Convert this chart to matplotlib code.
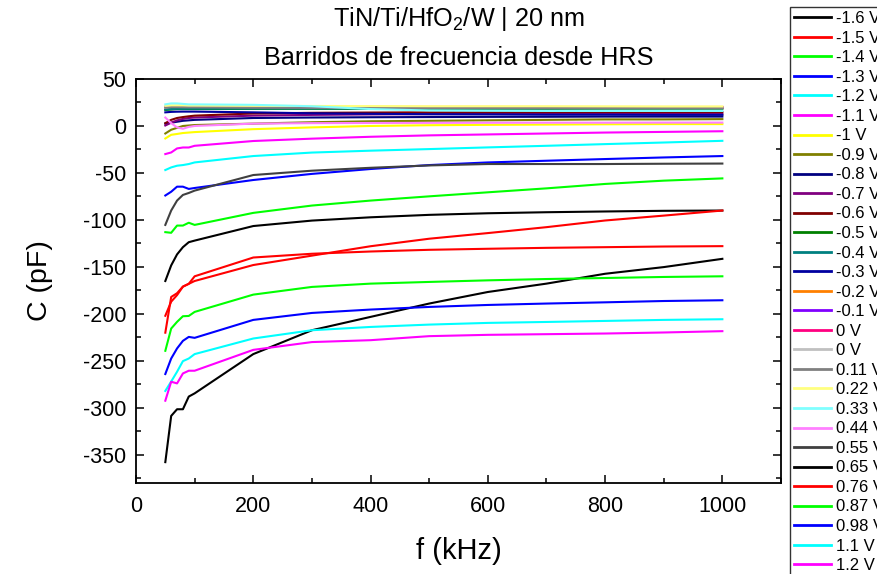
import matplotlib
matplotlib.use("Agg")
import matplotlib.pyplot as plt
from matplotlib.ticker import MultipleLocator

plt.rcParams['font.family'] = ['Liberation Sans', 'DejaVu Sans']
plt.rcParams['mathtext.fontset'] = 'custom'
plt.rcParams['mathtext.rm'] = 'Liberation Sans'
plt.rcParams['mathtext.default'] = 'regular'
plt.rcParams['axes.unicode_minus'] = False

# Frequency sweep points (kHz)
f_khz = [50, 60, 70, 80, 90, 100, 200, 300, 400, 500, 600, 700, 800, 900, 1000]

# Bias voltage labels, in plotting order
labels = ["-1.6 V", "-1.5 V", "-1.4 V", "-1.3 V", "-1.2 V", "-1.1 V", "-1 V",
          "-0.9 V", "-0.8 V", "-0.7 V", "-0.6 V", "-0.5 V", "-0.4 V", "-0.3 V",
          "-0.2 V", "-0.1 V", "0 V", "0 V", "0.11 V", "0.22 V", "0.33 V",
          "0.44 V", "0.55 V", "0.65 V", "0.76 V", "0.87 V", "0.98 V", "1.1 V",
          "1.2 V"]

colors = ["#000000", "#ff0000", "#00ff00", "#0000ff", "#00ffff", "#ff00ff",
          "#ffff00", "#808000", "#000080", "#800080", "#800000", "#008000",
          "#008080", "#0000a0", "#ff8000", "#8000ff", "#ff0080", "#c0c0c0",
          "#808080", "#ffff80", "#80ffff", "#ff80ff", "#404040", "#000000",
          "#ff0000", "#00ff00", "#0000ff", "#00ffff", "#ff00ff"]

# Capacitance (pF) for each bias, one value per frequency
c_m16 = [-165, -148.4, -136.7, -129, -123.7, -122, -106.5, -100.7, -97.2, -94.6, -92.9, -91.8, -91, -90.3, -90]
c_m15 = [-202, -187, -180, -171, -168, -165, -148, -138, -128, -120, -114, -107.7, -100.6, -95.4, -90]
c_m14 = [-113, -113.7, -106, -106, -103, -105.3, -92.5, -84.7, -79.4, -74.9, -70.6, -66.4, -61.7, -58.2, -55.8]
c_m13 = [-74, -70, -64.6, -64.6, -67, -66, -57.5, -51, -45.8, -41.6, -38.8, -37, -35.2, -33.5, -32]
c_m12 = [-46.9, -44.1, -42.3, -41.6, -40.5, -38.8, -32, -28.3, -26.3, -24.6, -22.8, -21.1, -19.3, -17.6, -15.8]
c_m11 = [-29.9, -28.2, -23.9, -22.9, -22.9, -21.1, -16, -13.5, -11.5, -10, -9, -8, -7, -6.3, -5.6]
c_m10 = [-13.3, -9.4, -8.5, -7.5, -7, -6.5, -3.4, -1.5, 0, 0.8, 1.2, 1.5, 1.8, 2, 2]
c_m09 = [-8, -4, -2, 0, 0.5, 1, 2.5, 4, 5, 5.5, 6, 6.5, 7, 7, 7.3]
c_m08 = [2.5, 3.5, 4.5, 5.5, 6, 6.5, 8.5, 9, 9.3, 9.5, 9.7, 9.8, 10, 10, 10]
c_m07 = [0.5, 3.5, 6, 7.5, 8.5, 9, 11, 11.8, 12.3, 12.6, 12.8, 13, 13, 13, 13]
c_m06 = [3, 6.5, 8.5, 9.5, 10.3, 11, 13.3, 14, 14.3, 14.5, 14.6, 14.7, 14.8, 14.8, 14.8]
c_m05 = [17, 17.5, 18, 18, 18, 18, 18.2, 18.3, 18.3, 18.4, 18.4, 18.4, 18.5, 18.5, 18.5]
c_m04 = [17.5, 18, 18.3, 18.3, 18.4, 18.4, 18.5, 18.6, 18.6, 18.7, 18.7, 18.7, 18.8, 18.8, 18.8]
c_m03 = [14.5, 15, 15.2, 15.3, 15.3, 15.3, 14.5, 13.5, 13, 12.5, 12.3, 12, 12, 11.8, 11.8]
c_m02 = [20.5, 21, 21, 21, 20.8, 20.8, 20.6, 20.5, 20.4, 20.3, 20.3, 20.2, 20.2, 20.2, 20.2]
c_m01 = [20.2, 20.6, 20.6, 20.5, 20.4, 20.4, 20.2, 20.1, 20, 20, 20, 19.9, 19.9, 19.9, 19.9]
c_0a = [20, 20.5, 20.5, 20.4, 20.3, 20.3, 20.1, 20, 19.9, 19.8, 19.8, 19.8, 19.7, 19.7, 19.7]
c_0b = [20, 20.5, 20.5, 20.4, 20.3, 20.3, 20.1, 20, 19.9, 19.8, 19.8, 19.8, 19.7, 19.7, 19.7]
c_p011 = [19.5, 20, 20, 19.9, 19.8, 19.8, 19.6, 19.5, 19.4, 19.3, 19.2, 19.1, 19.1, 19, 19]
c_p022 = [21.5, 22, 22, 22, 21.8, 21.8, 21.5, 21.3, 21.2, 21, 21, 21, 20.9, 20.8, 20.8]
c_p033 = [23, 24, 24, 23.5, 23, 23, 22.5, 21, 18, 16.5, 16.2, 16, 16, 16, 16]
c_p044 = [9, 3, -1.5, -3, -1, 0, 2.5, 3, 3.2, 3.3, 3.4, 3.5, 3.5, 3.6, 3.6]
c_p055 = [-105.3, -90, -79.4, -73.4, -71.3, -68.8, -52.2, -47.6, -44.5, -42, -40.5, -40.5, -40.5, -40.2, -40]
c_p065 = [-357.8, -308.6, -301.5, -301.5, -288, -284.6, -242.8, -217.4, -203.2, -189, -176.7, -167.8, -157.3, -150.2, -141.4]
c_p076 = [-220, -182, -178, -171, -168, -160, -140, -136, -133.6, -131.8, -130.7, -129.7, -129, -128.3, -127.9]
c_p087 = [-239.3, -215.6, -208.5, -202.5, -202.2, -197.9, -179.5, -171.3, -167.8, -166, -164.3, -162.9, -161.8, -160.7, -160]
c_p098 = [-264, -247.5, -236.8, -228.7, -224.5, -225.5, -206.4, -199, -195.4, -192.6, -190.5, -189, -187.7, -186.3, -185.5]
c_p110 = [-282, -272, -261.6, -250.3, -247.5, -242.8, -226.2, -217.4, -213.9, -211.4, -209.6, -208.6, -207.5, -206.4, -205.7]
c_p120 = [-292.4, -272.2, -274, -263.4, -260.5, -260.5, -238.3, -230, -228, -223.7, -222.3, -221.6, -220.9, -219.8, -218.4]

series = [c_m16, c_m15, c_m14, c_m13, c_m12, c_m11, c_m10, c_m09, c_m08,
          c_m07, c_m06, c_m05, c_m04, c_m03, c_m02, c_m01, c_0a, c_0b,
          c_p011, c_p022, c_p033, c_p044, c_p055, c_p065, c_p076, c_p087,
          c_p098, c_p110, c_p120]

fig = plt.figure(figsize=(8.77, 5.74), dpi=100)
ax = fig.add_axes([136 / 877, 1 - 483 / 574, (781 - 136) / 877, (483 - 79) / 574])

for vals, col, lab in zip(series, colors, labels):
    ax.plot(f_khz, vals, color=col, lw=1.5, label=lab)

ax.set_xlim(0, 1100)
ax.set_ylim(-380, 50)
ax.xaxis.set_major_locator(MultipleLocator(200))
ax.xaxis.set_minor_locator(MultipleLocator(100))
ax.yaxis.set_major_locator(MultipleLocator(50))
ax.yaxis.set_minor_locator(MultipleLocator(25))
ax.tick_params(which='both', direction='in', top=True, right=True, width=1.1)
ax.tick_params(which='major', length=6, labelsize=15.5)
ax.tick_params(which='minor', length=3.5)
ax.tick_params(axis='x', which='major', pad=9)
ax.tick_params(axis='y', which='major', pad=7)
for sp in ax.spines.values():
    sp.set_linewidth(1.3)

ax.set_xlabel("f (kHz)", fontsize=21)
ax.set_ylabel("C (pF)", fontsize=20.5)
ax.xaxis.set_label_coords(0.5, -(551 - 483) / 404)
ax.yaxis.set_label_coords((40 - 136) / 645, 0.5)
ax.xaxis.label.set_va('center')
ax.yaxis.label.set_va('center')

xc = (136 + 781) / 2 / 877
fig.text(xc, 1 - 26 / 574, r"TiN/Ti/HfO$_2$/W | 20 nm", ha='center', va='baseline', fontsize=18.2)
fig.text(xc, 1 - 65 / 574, "Barridos de frecuencia desde HRS", ha='center', va='baseline', fontsize=18.2)

leg = ax.legend(loc='upper left', bbox_to_anchor=(790 / 877, 1 - 7 / 574),
                bbox_transform=fig.transFigure, borderaxespad=0,
                fontsize=12, frameon=True, fancybox=False, edgecolor='black',
                handlelength=2.2, handletextpad=0.3, labelspacing=0.272,
                borderpad=0.25)
leg.get_frame().set_linewidth(1.0)
for h in leg.get_lines():
    h.set_linewidth(2)

fig.savefig("out.png", dpi=100)
